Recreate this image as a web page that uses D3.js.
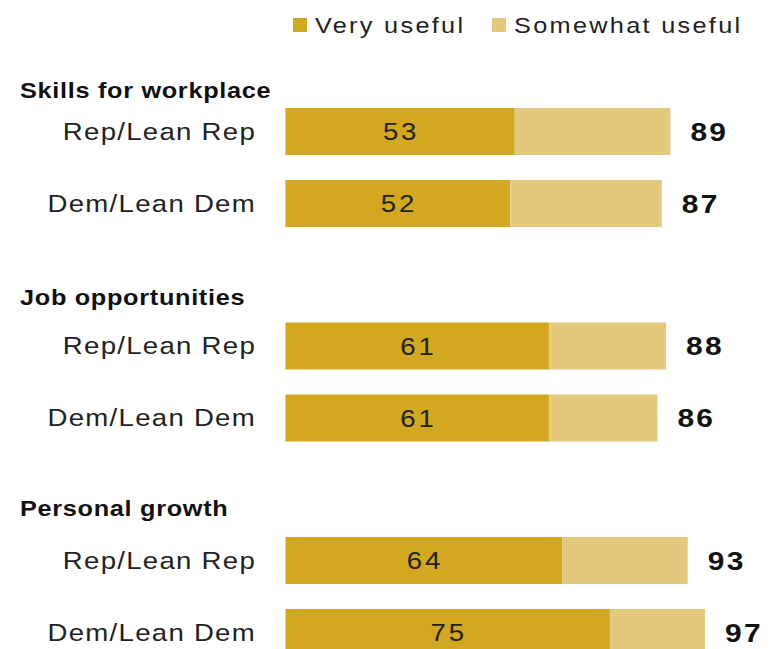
<!DOCTYPE html>
<html>
<head>
<meta charset="utf-8">
<script src="https://cdn.jsdelivr.net/npm/d3@7"></script>
<style>
  html, body { margin: 0; padding: 0; background: #ffffff; }
  svg { display: block; }
  text { font-family: "Liberation Sans", Arial, sans-serif; }
</style>
</head>
<body>
<svg id="chart" width="771" height="649"></svg>
<script>
// ---- data ----
const groups = ["Skills for workplace", "Job opportunities", "Personal growth"];
const parties = ["Rep/Lean Rep", "Dem/Lean Dem"];
const veryUseful = [[53, 52], [61, 61], [64, 75]];
const totalUseful = [[89, 87], [88, 86], [93, 97]];
const legendLabels = ["Very useful", "Somewhat useful"];

// ---- styles ----
const colors = ["#D1A81F", "#E3C97E"];
const SX = 1.15; // horizontal text stretch

const svg = d3.select("#chart");

const x = d3.scaleLinear().domain([0, 100]).range([285.5, 718]);
const gy = d3.scaleLinear().domain([0, 2]).range([108, 537]);
const ry = d3.scaleLinear().domain([0, 1]).range([0, 72]);
const barH = 47;
const headingGap = [10, 18, 21];

function txt(sel, xPos, yPos, s, opts) {
  return sel.append("text")
    .attr("transform", `translate(${xPos},${yPos}) scale(${SX},1)`)
    .attr("text-anchor", opts.anchor || "start")
    .attr("font-size", opts.size)
    .attr("font-weight", opts.weight || "normal")
    .attr("letter-spacing", opts.ls || 0)
    .attr("fill", opts.fill || "#222")
    .text(s);
}

// legend
const legX = [293, 492];
legendLabels.forEach((l, i) => {
  svg.append("rect").attr("x", legX[i]).attr("y", 18).attr("width", 14).attr("height", 14).attr("fill", colors[i]);
  txt(svg, legX[i] + 22, 33, l, { size: 22, ls: 2, fill: "#222" });
});

groups.forEach((g, gi) => {
  const top = gy(gi);
  txt(svg, 20, top - headingGap[gi], g, { size: 22, weight: "bold", ls: 0.6, fill: "#111" });
  parties.forEach((p, pi) => {
    const y0 = top + ry(pi);
    const v = veryUseful[gi][pi];
    const tot = totalUseful[gi][pi];
    txt(svg, 256, y0 + barH / 2 + 8, p, { size: 24, anchor: "end", ls: 1.1, fill: "#222" });
    svg.append("rect").attr("x", x(0)).attr("y", y0).attr("width", x(v) - x(0)).attr("height", barH).attr("fill", colors[0]);
    svg.append("rect").attr("x", x(v)).attr("y", y0).attr("width", x(tot) - x(v)).attr("height", barH).attr("fill", colors[1]);
    txt(svg, (x(0) + x(v)) / 2 + 1, y0 + barH / 2 + 8.5, v, { size: 24, anchor: "middle", ls: 2.5, fill: "#222" });
    txt(svg, x(tot) + 20, y0 + barH / 2 + 9, tot, { size: 26, weight: "bold", ls: 2, fill: "#111" });
  });
});
</script>
</body>
</html>
